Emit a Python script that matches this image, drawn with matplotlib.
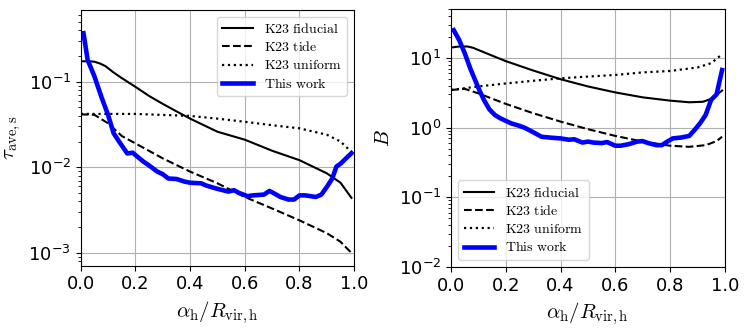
import numpy as np
import matplotlib
matplotlib.use("Agg")
import matplotlib.pyplot as plt

plt.rcParams['mathtext.fontset'] = 'cm'
plt.rcParams['font.size'] = 13

# ---- Left panel: tau_ave,s ----
x_fid_l = [0.0, 0.03, 0.05, 0.07, 0.09, 0.12, 0.15, 0.2, 0.25, 0.3, 0.35, 0.4, 0.5, 0.6, 0.7, 0.8,
           0.9, 0.95, 0.99]
tau_fid = [0.173, 0.173, 0.171, 0.163, 0.152, 0.128, 0.110, 0.087, 0.068, 0.055, 0.045, 0.037,
           0.026, 0.021, 0.0156, 0.0121, 0.0085, 0.0066, 0.0044]

x_tide_l = [0.0, 0.05, 0.1, 0.15, 0.2, 0.3, 0.4, 0.5, 0.6, 0.7, 0.8, 0.9, 0.95, 0.99]
tau_tide = [0.0415, 0.041, 0.0326, 0.0232, 0.019, 0.0127, 0.0089, 0.0065, 0.0045, 0.0033, 0.0024,
            0.0017, 0.00135, 0.001]

x_uni_l = [0.0, 0.2, 0.4, 0.5, 0.6, 0.7, 0.8, 0.9, 0.95, 0.99]
tau_uni = [0.042, 0.042, 0.0398, 0.037, 0.034, 0.031, 0.0285, 0.024, 0.020, 0.0151]

x_this_l = [0.01, 0.025, 0.05, 0.075, 0.1, 0.12, 0.14, 0.17, 0.19, 0.2, 0.23, 0.25, 0.28, 0.3,
            0.32, 0.35, 0.38, 0.4, 0.44, 0.46, 0.5, 0.54, 0.56, 0.58, 0.61, 0.63, 0.67, 0.69,
            0.71, 0.73, 0.76, 0.78, 0.8, 0.82, 0.86, 0.88, 0.9, 0.92, 0.935, 0.95, 0.97, 0.99]
tau_this = [0.368, 0.18, 0.115, 0.067, 0.0407, 0.025, 0.02, 0.0145, 0.0148, 0.0139, 0.0116, 0.0105,
            0.0089, 0.0083, 0.0074, 0.0073, 0.0068, 0.0066, 0.0065, 0.0061, 0.0056, 0.0052, 0.0054,
            0.0050, 0.0046, 0.0047, 0.0048, 0.0053, 0.0049, 0.0045, 0.0042, 0.0042, 0.0047, 0.0047,
            0.0045, 0.0048, 0.0059, 0.0074, 0.0102, 0.011, 0.0127, 0.0146]

# ---- Right panel: B ----
x_fid_r = [0.0, 0.03, 0.06, 0.08, 0.1, 0.15, 0.2, 0.3, 0.4, 0.5, 0.6, 0.7, 0.8, 0.87, 0.92,
           0.95, 0.99]
B_fid = [14.1, 14.6, 14.6, 14.0, 13.0, 10.8, 9.0, 6.6, 4.95, 3.9, 3.2, 2.72, 2.44, 2.31, 2.35,
         2.58, 3.4]

x_tide_r = [0.0, 0.05, 0.1, 0.2, 0.3, 0.4, 0.5, 0.6, 0.7, 0.8, 0.87, 0.93, 0.97, 0.99]
B_tide = [3.47, 3.6, 3.1, 2.19, 1.61, 1.22, 0.95, 0.76, 0.63, 0.55, 0.53, 0.56, 0.64, 0.74]

x_uni_r = [0.0, 0.1, 0.2, 0.3, 0.4, 0.5, 0.6, 0.7, 0.8, 0.9, 0.95, 0.99]
B_uni = [3.47, 3.9, 4.3, 4.7, 5.1, 5.4, 5.7, 6.2, 6.5, 7.3, 8.4, 11.3]

x_this_r = [0.01, 0.03, 0.05, 0.07, 0.09, 0.1, 0.12, 0.14, 0.16, 0.18, 0.2, 0.22, 0.25, 0.27,
            0.3, 0.33, 0.36, 0.4, 0.43, 0.45, 0.48, 0.5, 0.52, 0.55, 0.57, 0.6, 0.62, 0.65, 0.68,
            0.7, 0.72, 0.75, 0.77, 0.79, 0.81, 0.84, 0.87, 0.89, 0.91, 0.93, 0.95, 0.97, 0.99]
B_this = [25, 18, 11.7, 7.1, 4.6, 3.7, 2.5, 1.83, 1.52, 1.36, 1.25, 1.15, 1.06, 0.99,
          0.86, 0.74, 0.72, 0.70, 0.67, 0.68, 0.61, 0.63, 0.61, 0.60, 0.62, 0.55, 0.55, 0.58, 0.63,
          0.64, 0.60, 0.56, 0.56, 0.63, 0.70, 0.72, 0.76, 0.93, 1.16, 1.52, 2.5, 3.0, 6.7]

labels = [r'$\mathrm{K23\ fiducial}$', r'$\mathrm{K23\ tide}$',
          r'$\mathrm{K23\ uniform}$', r'$\mathrm{This\ work}$']

fig = plt.figure(figsize=(7.48, 3.3), dpi=100)
ax1 = fig.add_axes([0.108, 0.195, 0.3655, 0.776])
ax2 = fig.add_axes([0.603, 0.191, 0.366, 0.781])

def draw(ax, xf, yf, xt, yt, xu, yu, xb, yb):
    ax.plot(xf, yf, color='black', ls='-', lw=1.5, label=labels[0])
    ax.plot(xt, yt, color='black', ls='--', lw=1.5, label=labels[1])
    ax.plot(xu, yu, color='black', ls=':', lw=1.6, label=labels[2])
    ax.plot(xb, yb, color='blue', ls='-', lw=3.3, label=labels[3])
    ax.set_yscale('log')
    ax.set_xlim(0, 1)
    ax.grid(True, which='major', color='#b0b0b0', lw=0.8)
    ax.set_xlabel(r'$\alpha_{\rm h}/R_{\rm vir,h}$', fontsize=15)
    ax.tick_params(labelsize=13)

leg_kw = dict(fontsize=10, handlelength=2.2, labelspacing=0.3, borderaxespad=0.5)

draw(ax1, x_fid_l, tau_fid, x_tide_l, tau_tide, x_uni_l, tau_uni, x_this_l, tau_this)
ax1.set_ylim(7.1e-4, 0.695)
ax1.set_ylabel(r'$\tau_{\rm ave,s}$', fontsize=15)
ax1.legend(loc='upper right', **leg_kw)

draw(ax2, x_fid_r, B_fid, x_tide_r, B_tide, x_uni_r, B_uni, x_this_r, B_this)
ax2.set_ylim(1e-2, 50)
ax2.set_ylabel(r'$B$', fontsize=15)
ax2.legend(loc='lower left', **leg_kw)

fig.savefig('out.png', dpi=100)
